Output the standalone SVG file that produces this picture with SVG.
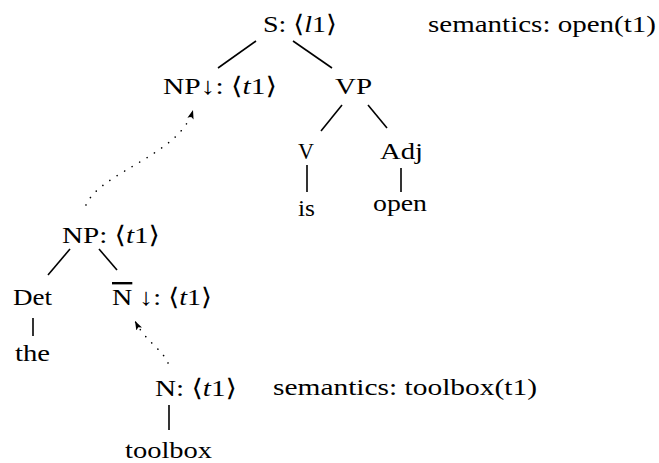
<svg xmlns="http://www.w3.org/2000/svg" width="659" height="463" viewBox="0 0 659 463">
  <style>
    .lbl { font-size: 24px; fill: #000; }
    .it { font-style: italic; }
    .edge { stroke: #000; stroke-width: 1.6; fill: none; stroke-linecap: butt; }
    .subst { stroke: #000; stroke-width: 1.6; fill: none; stroke-linecap: round; stroke-dasharray: 0.1 8.6; }
  </style>
  <defs>
    <marker id="tip" viewBox="0 -4 10 8" refX="9" refY="0" markerWidth="10" markerHeight="8" markerUnits="userSpaceOnUse" orient="auto">
      <path d="M0,-3.2 L9,0 L0,3.2 L2,0 Z" fill="#000"/>
    </marker>
  </defs>
  <rect width="659" height="463" fill="#fff"/>

  <!-- tree edges and substitution links -->
  <g id="connectors">
    <line class="edge" x1="256" y1="41" x2="218" y2="68"/>
    <line class="edge" x1="293" y1="41" x2="332" y2="68"/>
    <line class="edge" x1="342" y1="105" x2="321" y2="131"/>
    <line class="edge" x1="368" y1="105" x2="387" y2="128"/>
    <line class="edge" x1="307" y1="165" x2="307" y2="192"/>
    <line class="edge" x1="401" y1="168" x2="401" y2="192"/>
    <line class="edge" x1="70" y1="249" x2="48" y2="275"/>
    <line class="edge" x1="99" y1="249" x2="117" y2="270"/>
    <line class="edge" x1="33" y1="318" x2="33" y2="336"/>
    <line class="edge" x1="169" y1="405" x2="169" y2="430"/>
    <path class="subst" d="M86,205 C100,172 180,155 193,110" marker-end="url(#tip)"/>
    <path class="subst" d="M168,363 C163,350 146,342 135,321" marker-end="url(#tip)"/>
  </g>

  <g font-family="Liberation Serif, Times New Roman, DejaVu Serif, serif">
    <g id="node-S"><text class="lbl" x="263" y="32" textLength="74" lengthAdjust="spacingAndGlyphs">S: ⟨<tspan class="it">l</tspan>1⟩</text></g>
    <g id="sem-open"><text class="lbl" x="428" y="32" textLength="228" lengthAdjust="spacingAndGlyphs">semantics: open(t1)</text></g>
    <g id="node-NP-subst"><text class="lbl" x="163" y="94" textLength="114" lengthAdjust="spacingAndGlyphs">NP↓: ⟨<tspan class="it">t</tspan>1⟩</text></g>
    <g id="node-VP"><text class="lbl" x="335" y="94" textLength="37" lengthAdjust="spacingAndGlyphs">VP</text></g>
    <g id="node-V"><text class="lbl" x="298" y="159" textLength="16" lengthAdjust="spacingAndGlyphs">V</text></g>
    <g id="node-Adj"><text class="lbl" x="380" y="159" textLength="43" lengthAdjust="spacingAndGlyphs">Adj</text></g>
    <g id="leaf-is"><text class="lbl" x="298" y="216" textLength="17" lengthAdjust="spacingAndGlyphs">is</text></g>
    <g id="leaf-open"><text class="lbl" x="373" y="211" textLength="54" lengthAdjust="spacingAndGlyphs">open</text></g>
    <g id="node-NP"><text class="lbl" x="62" y="243" textLength="98" lengthAdjust="spacingAndGlyphs">NP: ⟨<tspan class="it">t</tspan>1⟩</text></g>
    <g id="node-Det"><text class="lbl" x="13" y="305" textLength="39" lengthAdjust="spacingAndGlyphs">Det</text></g>
    <g id="node-Nbar"><text class="lbl" x="112" y="305" textLength="100" lengthAdjust="spacingAndGlyphs"><tspan text-decoration="overline">N</tspan> ↓: ⟨<tspan class="it">t</tspan>1⟩</text></g>
    <g id="leaf-the"><text class="lbl" x="15" y="361" textLength="35" lengthAdjust="spacingAndGlyphs">the</text></g>
    <g id="node-N"><text class="lbl" x="155" y="396" textLength="82" lengthAdjust="spacingAndGlyphs">N: ⟨<tspan class="it">t</tspan>1⟩</text></g>
    <g id="sem-toolbox"><text class="lbl" x="273" y="395" textLength="264" lengthAdjust="spacingAndGlyphs">semantics: toolbox(t1)</text></g>
    <g id="leaf-toolbox"><text class="lbl" x="125" y="458" textLength="87" lengthAdjust="spacingAndGlyphs">toolbox</text></g>
  </g>
</svg>
